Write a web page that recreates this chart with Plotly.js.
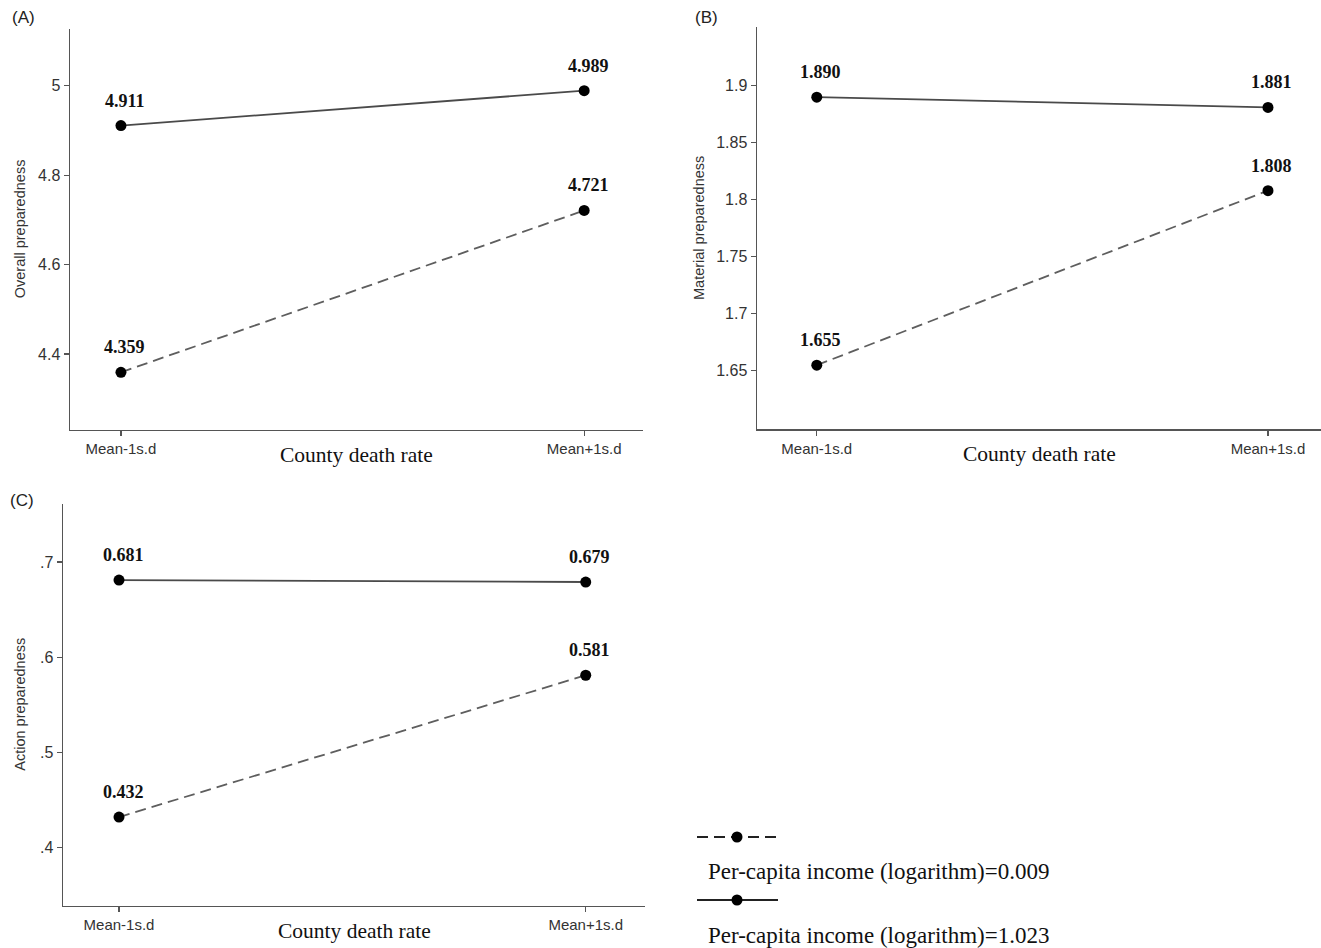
<!DOCTYPE html>
<html>
<head>
<meta charset="utf-8">
<script src="https://cdn.plot.ly/plotly-3.0.1.min.js"></script>
<style>
  html, body { margin: 0; padding: 0; background: #fff; }
  #chart { width: 1321px; height: 948px; }
</style>
</head>
<body>
<div id="chart"></div>
<script>
// ---- data ----
const categories = ['Mean-1s.d', 'Mean+1s.d'];

const overallLow  = [4.359, 4.721];   // per-capita income (log) = 0.009
const overallHigh = [4.911, 4.989];   // per-capita income (log) = 1.023
const materialLow  = [1.655, 1.808];
const materialHigh = [1.890, 1.881];
const actionLow  = [0.432, 0.581];
const actionHigh = [0.681, 0.679];

const lowName  = 'Per-capita income (logarithm)=0.009';
const highName = 'Per-capita income (logarithm)=1.023';

const overallTicks  = [4.4, 4.6, 4.8, 5];
const overallTickText = ['4.4', '4.6', '4.8', '5'];
const materialTicks = [1.65, 1.7, 1.75, 1.8, 1.85, 1.9];
const materialTickText = ['1.65', '1.7', '1.75', '1.8', '1.85', '1.9'];
const actionTicks = [0.4, 0.5, 0.6, 0.7];
const actionTickText = ['.4', '.5', '.6', '.7'];

const yTitles = ['Overall preparedness', 'Material preparedness', 'Action preparedness'];
const xTitle = 'County death rate';
const panelLabels = ['(A)', '(B)', '(C)'];

// ---- styling ----
const W = 1321, H = 948;
const px = v => v / W;
const py = v => 1 - v / H;
const serif = 'Liberation Serif, Times New Roman, serif';
const sans = 'Liberation Sans, Arial, sans-serif';
const lineHigh = { color: '#4a4a4a', width: 1.8, dash: 'solid' };
const lineLow  = { color: '#5e5e5e', width: 1.8, dash: '11px,6px' };
const mk = { color: '#000', size: 11 };

const panels = [
  { xa: 'x',  ya: 'y',  low: overallLow,  high: overallHigh },
  { xa: 'x2', ya: 'y2', low: materialLow, high: materialHigh },
  { xa: 'x3', ya: 'y3', low: actionLow,   high: actionHigh }
];

const traces = [];
panels.forEach(p => {
  traces.push({ x: categories, y: p.high, xaxis: p.xa, yaxis: p.ya, type: 'scatter',
    mode: 'lines+markers', line: lineHigh, marker: mk, name: highName, showlegend: false, hoverinfo: 'x+y' });
  traces.push({ x: categories, y: p.low, xaxis: p.xa, yaxis: p.ya, type: 'scatter',
    mode: 'lines+markers', line: lineLow, marker: mk, name: lowName, showlegend: false, hoverinfo: 'x+y' });
});

function xAxis(domain, range) {
  return {
    domain: domain, type: 'category', range: range,
    showline: true, linecolor: '#555', linewidth: 1.5, mirror: false,
    ticks: 'outside', ticklen: 5, tickcolor: '#555', tickwidth: 1.2,
    showgrid: false, zeroline: false, fixedrange: true,
    tickfont: { family: sans, size: 15, color: '#333' }
  };
}
function yAxis(domain, range, tv, tt, anchor) {
  return {
    domain: domain, range: range, anchor: anchor,
    tickvals: tv, ticktext: tt,
    showline: true, linecolor: '#555', linewidth: 1.5,
    ticks: 'outside', ticklen: 5, tickcolor: '#555', tickwidth: 1.2,
    showgrid: false, zeroline: false, fixedrange: true,
    tickfont: { family: sans, size: 16, color: '#333' }
  };
}

const layout = {
  width: W, height: H,
  margin: { l: 0, r: 0, t: 0, b: 0 },
  paper_bgcolor: '#fff', plot_bgcolor: '#fff',
  showlegend: false,
  xaxis:  Object.assign(xAxis([px(70), px(643)], [-0.11, 1.127]), { anchor: 'y' }),
  yaxis:  yAxis([py(429.5), py(29)], [4.231, 5.127], overallTicks, overallTickText, 'x'),
  xaxis2: Object.assign(xAxis([px(757), 1], [-0.1325, 1.1175]), { anchor: 'y2' }),
  yaxis2: yAxis([py(429), py(27)], [1.599, 1.9515], materialTicks, materialTickText, 'x2'),
  xaxis3: Object.assign(xAxis([px(63), px(645)], [-0.12, 1.127]), { anchor: 'y3' }),
  yaxis3: yAxis([py(905.5), py(504)], [0.339, 0.761], actionTicks, actionTickText, 'x3'),
  annotations: [],
  shapes: []
};

// value labels
panels.forEach(p => {
  [p.high, p.low].forEach(series => {
    series.forEach((v, i) => {
      layout.annotations.push({
        xref: p.xa, yref: p.ya, x: categories[i], y: v,
        text: '<b>' + v.toFixed(3) + '</b>', showarrow: false,
        xanchor: 'center', yanchor: 'middle', yshift: 25, xshift: 4,
        font: { family: serif, size: 18, color: '#111' }
      });
    });
  });
});

// axis titles and panel labels
const yTitleShift = [-50, -58, -43];
panels.forEach((p, k) => {
  layout.annotations.push({
    xref: p.xa + ' domain', yref: p.ya + ' domain', x: 0.5, y: 0,
    text: xTitle, showarrow: false, xanchor: 'center', yanchor: 'middle', yshift: -25,
    font: { family: serif, size: 21.5, color: '#111' }
  });
  layout.annotations.push({
    xref: p.xa + ' domain', yref: p.ya + ' domain', x: 0, y: 0.5,
    text: yTitles[k], showarrow: false, textangle: -90, xanchor: 'center', yanchor: 'middle',
    xshift: yTitleShift[k],
    font: { family: sans, size: 14.5, color: '#333' }
  });
});
const panelPos = [[10, 18], [693, 18], [8, 500]];
panelLabels.forEach((t, k) => {
  layout.annotations.push({
    xref: 'paper', yref: 'paper', x: px(panelPos[k][0]), y: py(panelPos[k][1]),
    text: t, showarrow: false, xanchor: 'left', yanchor: 'middle',
    font: { family: sans, size: 17, color: '#222' }
  });
});

// legend (custom, keys stacked above texts)
const legendItems = [
  { line: lineLow,  keyY: 837, textY: 871, label: lowName },
  { line: lineHigh, keyY: 900, textY: 935, label: highName }
];
legendItems.forEach(it => {
  layout.shapes.push({
    type: 'line', xref: 'paper', yref: 'paper',
    x0: px(697), x1: px(778), y0: py(it.keyY), y1: py(it.keyY),
    line: { color: '#222', width: it.line.width, dash: it.line.dash }
  });
  layout.shapes.push({
    type: 'circle', xref: 'paper', yref: 'paper',
    x0: px(737 - 5.5), x1: px(737 + 5.5), y0: py(it.keyY + 5.5), y1: py(it.keyY - 5.5),
    fillcolor: '#000', line: { color: '#000', width: 0 }
  });
  layout.annotations.push({
    xref: 'paper', yref: 'paper', x: px(706), y: py(it.textY),
    text: it.label, showarrow: false, xanchor: 'left', yanchor: 'middle',
    font: { family: serif, size: 23, color: '#111' }
  });
});

Plotly.newPlot('chart', traces, layout, { displayModeBar: false, staticPlot: true });
</script>
</body>
</html>
